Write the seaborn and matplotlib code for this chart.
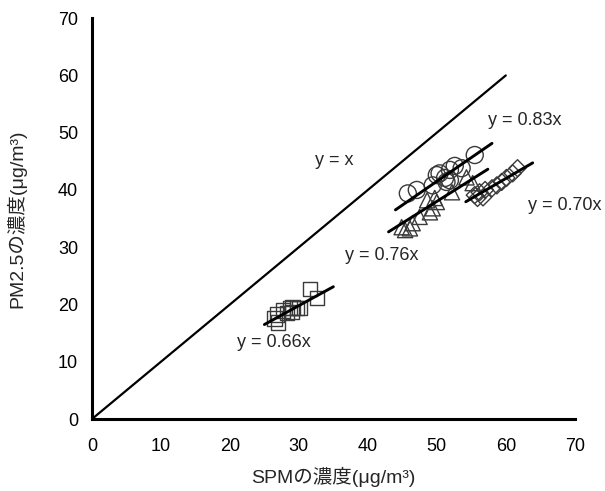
import matplotlib
matplotlib.use('Agg')
import matplotlib.pyplot as plt
import seaborn as sns
import pandas as pd
import numpy as np

# Data (SPM vs PM2.5, four site groups)
sq_x = [31.6, 32.6, 26.5, 26.8, 27.7, 28.7, 29.1, 29.7, 30.1, 27.0, 29.0, 28.3]
sq_y = [22.7, 21.1, 17.6, 18.3, 19.0, 19.4, 19.5, 19.4, 19.4, 16.9, 18.7, 18.5]

ci_x = [55.5, 52.6, 53.6, 51.9, 50.4, 50.0, 51.2, 49.4, 47.1, 51.9, 45.8, 51.4]
ci_y = [46.1, 44.2, 43.8, 43.5, 42.9, 42.6, 42.1, 40.8, 40.0, 41.7, 39.4, 41.4]

tr_x = [46.1, 45.4, 44.9, 46.5, 47.5, 49.0, 49.4, 50.0, 49.7, 52.2, 55.2, 54.3, 48.6]
tr_y = [33.3, 33.0, 33.5, 34.2, 35.3, 36.1, 36.8, 37.9, 38.6, 39.6, 41.2, 42.2, 38.2]

di_x = [61.7, 61.0, 60.1, 59.4, 58.7, 58.0, 57.0, 56.2, 56.7, 55.9, 55.5]
di_y = [43.8, 42.9, 42.1, 41.4, 40.8, 40.3, 40.0, 39.6, 38.7, 38.6, 39.1]

# fitted slopes and x-extent of each fit line
slopes = [0.66, 0.83, 0.76, 0.70]
fit_ranges = [(25, 35), (44, 58), (43, 57.4), (54.2, 63.9)]
fit_labels = ['y = 0.66x', 'y = 0.83x', 'y = 0.76x', 'y = 0.70x']
label_pos = [(26.4, 13.3), (62.8, 52.2), (42.0, 28.6), (68.6, 37.3)]

sns.set_style('white')
plt.rcParams['font.family'] = ['Liberation Sans', 'Noto Sans CJK JP', 'DejaVu Sans']

fig = plt.figure(figsize=(6.05, 4.91), dpi=100)
ax = fig.add_axes([0.152, 0.1466, 0.798, 0.8164])

edge = '#3a3a3a'
groups = [(sq_x, sq_y, 's', 110), (ci_x, ci_y, 'o', 150),
          (tr_x, tr_y, '^', 120), (di_x, di_y, 'D', 75)]
for gx, gy, m, s in groups:
    sns.scatterplot(x=gx, y=gy, marker=m, s=s, facecolor='none',
                    edgecolor=edge, linewidth=1.0, ax=ax, legend=False)

# y = x reference line
ax.plot([0, 60], [0, 60], color='black', lw=1.6)
ax.text(35.2, 45.2, 'y = x', fontsize=13, ha='center', va='center')

for k, (x0, x1) in zip(slopes, fit_ranges):
    xs = np.array([x0, x1])
    ax.plot(xs, k * xs, color='black', lw=2.1)
for lab, (tx, ty) in zip(fit_labels, label_pos):
    ax.text(tx, ty, lab, fontsize=13, ha='center', va='center')

ax.set_xlim(0, 70)
ax.set_ylim(0, 70)
ax.set_xticks(range(0, 71, 10))
ax.set_yticks(range(0, 71, 10))
for side in ['top', 'right']:
    ax.spines[side].set_visible(False)
for side in ['left', 'bottom']:
    ax.spines[side].set_linewidth(2.2)
    ax.spines[side].set_color('black')
ax.tick_params(direction='in', length=5, width=2, labelsize=13, colors='black')
ax.tick_params(axis='x', pad=14)
ax.tick_params(axis='y', pad=10)

ax.set_xlabel('SPMの濃度(μg/m³)', fontsize=14, labelpad=8)
ax.set_ylabel('PM2.5の濃度(μg/m³)', fontsize=14, labelpad=23)

fig.savefig('out.png', dpi=100)
